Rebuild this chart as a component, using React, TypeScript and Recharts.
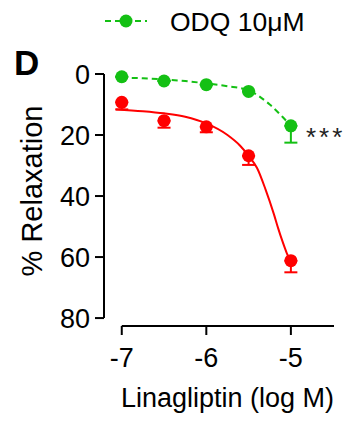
import { ErrorBar, Label, Line, LineChart, ReferenceLine, XAxis, YAxis } from "recharts";

// dose points (log M)
const doses = [-7, -6.5, -6, -5.5, -5];
const controlMean = [9.3, 15.3, 17.3, 26.8, 61.2];
const controlSem = [2.3, 2.3, 1.8, 3.0, 3.8];
const odqMean = [0.9, 2.3, 3.5, 5.7, 17.0];
const odqSem = [0, 0, 0, 0, 5.5];

// fitted curves
const controlFitX = [-7.07, -6.75, -6.5, -6.25, -6, -5.75, -5.6, -5.5, -5.4, -5.3, -5.2, -5.15, -5.1, -5.05, -5];
const controlFitY = [11.6, 12.2, 12.9, 14.0, 16.2, 20.0, 23.5, 26.8, 30.8, 37.8, 46.0, 50.6, 54.8, 58.6, 61.6];
const odqFitX = [-7, -6.75, -6.5, -6.25, -6, -5.75, -5.5, -5.25, -5.1, -5];
const odqFitY = [1.2, 1.4, 1.8, 2.3, 3.1, 4.0, 5.4, 10.0, 14.0, 17.0];

const xTicks = [-7, -6, -5];
const yTicks = [0, 20, 40, 60, 80];
const xDomain = [-7.21, -4.49];
const yDomain = [0, 82.6];

const FONT = "'Liberation Sans', Arial, Helvetica, sans-serif";
const RED = "#ff0000";
const GREEN = "#14c014";

const points = doses.map((x, i) => ({
  x,
  control: controlMean[i],
  controlErr: [0, controlSem[i]],
  odq: odqMean[i],
  odqErr: [0, odqSem[i]],
}));
const controlFit = controlFitX.map((x, i) => ({ x, y: controlFitY[i] }));
const odqFit = odqFitX.map((x, i) => ({ x, y: odqFitY[i] }));

const tickStyle = { fontSize: 27, fill: "#000", fontFamily: FONT };

function YTitle({ viewBox }: any) {
  const cx = viewBox.x + 42;
  const cy = viewBox.y + viewBox.height / 2 - 9;
  return (
    <text x={cx} y={cy} transform={`rotate(-90 ${cx} ${cy})`} textAnchor="middle" fontSize={29} fontFamily={FONT} fill="#000">
      % Relaxation
    </text>
  );
}

function XTitle({ viewBox }: any) {
  const cx = viewBox.x + viewBox.width / 2 + 8.5;
  const cy = viewBox.y + 81;
  return (
    <text x={cx} y={cy} textAnchor="middle" fontSize={27} fontFamily={FONT} fill="#000">
      Linagliptin (log M)
    </text>
  );
}

export default function App() {
  return (
    <div style={{ position: "absolute", left: 0, top: 0, width: 346, height: 421, background: "#fff" }}>
      <LineChart width={346} height={421} margin={{ top: 74, right: 12, bottom: 0, left: 0 }}>
        <XAxis
          type="number"
          dataKey="x"
          domain={xDomain}
          ticks={xTicks}
          interval={0}
          axisLine={false}
          tickLine={{ stroke: "#000", strokeWidth: 2 }}
          tickSize={9}
          tickMargin={13}
          tick={tickStyle}
          height={95}
        >
          <Label content={<XTitle />} />
        </XAxis>
        <YAxis
          type="number"
          reversed
          domain={yDomain}
          ticks={yTicks}
          interval={0}
          axisLine={false}
          tickLine={{ stroke: "#000", strokeWidth: 2 }}
          tickSize={9}
          tickMargin={5}
          tick={tickStyle}
          width={104}
        >
          <Label content={<YTitle />} />
        </YAxis>
        <ReferenceLine
          segment={[{ x: xTicks[0], y: yDomain[1] }, { x: xDomain[1], y: yDomain[1] }]}
          stroke="#000"
          strokeWidth={2}
          ifOverflow="visible"
        />
        <ReferenceLine
          segment={[{ x: xDomain[0], y: yTicks[0] }, { x: xDomain[0], y: yTicks[yTicks.length - 1] }]}
          stroke="#000"
          strokeWidth={2}
          ifOverflow="visible"
        />
        <Line data={controlFit} dataKey="y" type="monotone" stroke={RED} strokeWidth={2} dot={false} isAnimationActive={false} />
        <Line data={odqFit} dataKey="y" type="monotone" stroke={GREEN} strokeWidth={2} strokeDasharray="6 4" dot={false} isAnimationActive={false} />
        <Line data={points} dataKey="control" stroke="none" dot={{ r: 6.5, fill: RED, stroke: "none" }} isAnimationActive={false}>
          <ErrorBar dataKey="controlErr" direction="y" width={6.5} stroke={RED} strokeWidth={2} isAnimationActive={false} />
        </Line>
        <Line data={points} dataKey="odq" stroke="none" dot={{ r: 6.5, fill: GREEN, stroke: "none" }} isAnimationActive={false}>
          <ErrorBar dataKey="odqErr" direction="y" width={6.5} stroke={GREEN} strokeWidth={2} isAnimationActive={false} />
        </Line>
      </LineChart>
      <svg width={346} height={421} style={{ position: "absolute", left: 0, top: 0, pointerEvents: "none" }}>
        <line x1={105} x2={147} y1={21} y2={21} stroke={GREEN} strokeWidth={2} strokeDasharray="6 4" />
        <circle cx={126} cy={21} r={6.5} fill={GREEN} />
        <text x={170} y={31} fontSize={26.5} fontFamily={FONT} fill="#000">ODQ 10μM</text>
        <text x={14} y={75} fontSize={35} fontWeight="bold" fontFamily={FONT} fill="#000">D</text>
        <text x={306} y={146} fontSize={26} letterSpacing={3} fontFamily={FONT} fill="#222">***</text>
      </svg>
    </div>
  );
}
